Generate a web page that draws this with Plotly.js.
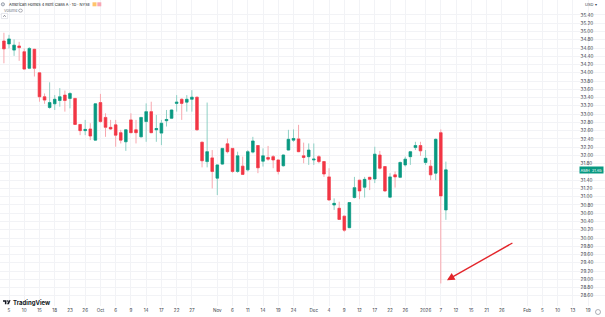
<!DOCTYPE html>
<html><head><meta charset="utf-8">
<script src="https://cdn.plot.ly/plotly-3.0.1.min.js"></script>
<style>html,body{margin:0;padding:0;background:#fff;}#chart{width:605px;height:317px;}</style>
</head><body><div id="chart"></div>
<script>
const dates = ["2025-09-04","2025-09-05","2025-09-08","2025-09-09","2025-09-10","2025-09-11","2025-09-12","2025-09-15","2025-09-16","2025-09-17","2025-09-18","2025-09-19","2025-09-22","2025-09-23","2025-09-24","2025-09-25","2025-09-26","2025-09-29","2025-09-30",
"2025-10-01","2025-10-02","2025-10-03","2025-10-06","2025-10-07","2025-10-08","2025-10-09","2025-10-10","2025-10-13","2025-10-14","2025-10-15","2025-10-16","2025-10-17","2025-10-20","2025-10-21","2025-10-22","2025-10-23","2025-10-24","2025-10-27","2025-10-28","2025-10-29","2025-10-30","2025-10-31",
"2025-11-03","2025-11-04","2025-11-05","2025-11-06","2025-11-07","2025-11-10","2025-11-11","2025-11-12","2025-11-13","2025-11-14","2025-11-17","2025-11-18","2025-11-19","2025-11-20","2025-11-21","2025-11-24","2025-11-25","2025-11-26","2025-11-28",
"2025-12-01","2025-12-02","2025-12-03","2025-12-04","2025-12-05","2025-12-08","2025-12-09","2025-12-10","2025-12-11","2025-12-12","2025-12-15","2025-12-16","2025-12-17","2025-12-18","2025-12-19","2025-12-22","2025-12-23","2025-12-24","2025-12-26","2025-12-29","2025-12-30","2025-12-31",
"2026-01-02","2026-01-05","2026-01-06","2026-01-07","2026-01-08"];
const futureDates = ["2026-01-09","2026-01-12","2026-01-13","2026-01-14","2026-01-15","2026-01-16","2026-01-20","2026-01-21","2026-01-22","2026-01-23","2026-01-26","2026-01-27","2026-01-28","2026-01-29","2026-01-30","2026-02-02","2026-02-03","2026-02-04","2026-02-05","2026-02-06","2026-02-09","2026-02-10","2026-02-11","2026-02-12","2026-02-13","2026-02-17","2026-02-18","2026-02-19","2026-02-20","2026-02-23","2026-02-24","2026-02-25"];

const open = [34.77,34.70,34.55,34.65,34.51,34.11,34.57,34.00,33.42,33.16,33.25,33.33,33.46,33.38,33.38,32.75,32.60,32.64,32.37,
33.28,32.92,32.68,32.74,32.55,32.33,32.86,32.62,32.45,32.82,33.06,32.62,32.54,32.84,32.90,33.26,33.36,33.29,33.36,33.41,32.32,31.85,31.94,
31.45,31.79,32.28,32.17,31.61,31.74,31.65,32.08,32.24,31.86,31.95,31.97,31.89,31.75,32.13,32.37,32.40,31.99,31.97,
31.89,31.97,31.85,31.48,30.80,30.72,30.53,30.25,30.98,31.40,31.23,31.47,31.43,32.01,31.73,30.99,31.53,31.47,31.77,31.97,32.19,32.24,
31.83,31.74,31.57,32.55,30.68];
const high = [34.97,34.92,34.81,34.75,34.59,34.62,34.58,34.01,33.50,33.77,33.46,33.63,33.57,33.53,33.39,32.76,32.86,32.78,33.26,
33.49,33.02,32.86,32.86,32.62,32.63,33.02,32.86,32.93,33.26,33.30,32.98,32.86,33.10,33.11,33.46,33.38,33.46,33.58,33.42,32.33,33.28,32.13,
31.78,32.18,32.41,32.18,32.09,31.97,32.13,32.45,32.25,32.17,32.23,32.01,31.90,32.02,32.62,32.63,32.74,32.31,32.29,
32.29,32.01,31.86,31.69,30.96,30.88,30.54,30.87,31.48,31.41,31.48,31.48,32.21,32.11,31.74,31.57,31.61,31.85,31.97,32.11,32.33,32.33,
32.13,31.89,32.41,32.63,31.85];
const low = [34.23,34.59,34.41,34.29,34.08,34.09,33.91,33.30,33.25,33.13,33.10,33.18,33.06,33.14,32.74,32.49,32.49,32.37,32.36,
32.79,32.45,32.62,32.21,32.29,32.11,32.54,32.29,32.44,32.33,32.54,32.33,32.25,32.70,32.88,33.06,32.86,33.06,33.06,32.60,31.71,31.71,31.20,
31.04,31.77,32.05,31.58,31.58,31.53,31.61,32.05,31.57,31.73,31.87,31.69,31.54,31.73,32.12,32.33,32.08,31.81,31.77,
31.77,31.81,31.48,30.91,30.68,30.44,30.15,30.24,30.96,30.94,30.98,31.16,31.33,31.66,31.12,30.98,31.22,31.45,31.73,31.77,32.13,31.99,
31.77,31.40,31.40,28.90,30.44];
const close = [34.58,34.82,34.67,34.61,34.09,34.59,34.11,33.42,33.34,33.28,33.36,33.42,33.33,33.50,32.75,32.60,32.63,32.47,33.25,
32.82,32.68,32.64,32.49,32.37,32.62,32.55,32.55,32.92,33.06,32.55,32.65,32.78,32.87,33.10,33.29,33.26,33.36,33.41,32.62,31.87,32.09,31.61,
31.77,32.17,32.09,31.61,31.99,31.54,32.09,32.35,31.70,31.99,31.91,31.89,31.61,32.01,32.39,32.41,32.09,31.95,32.13,
31.91,31.85,31.55,30.92,30.84,30.45,30.19,30.86,31.22,31.14,31.42,31.42,32.03,31.69,31.14,31.48,31.48,31.83,31.91,32.09,32.24,32.11,
31.93,31.53,32.39,31.02,31.65];

const tickDates = ["2025-09-05","2025-09-10","2025-09-15","2025-09-18","2025-09-23","2025-09-26","2025-10-01","2025-10-06","2025-10-09","2025-10-14","2025-10-17","2025-10-22","2025-10-27","2025-11-03","2025-11-06","2025-11-11","2025-11-14","2025-11-19","2025-11-24","2025-12-01","2025-12-04","2025-12-09","2025-12-12","2025-12-17","2025-12-22","2025-12-26","2026-01-02","2026-01-07","2026-01-12","2026-01-15","2026-01-21","2026-01-26","2026-02-02","2026-02-05","2026-02-10","2026-02-13","2026-02-19"];
const tickText = ["5","10","15","18","23","26","Oct","6","9","14","17","22","27","Nov","6","11","14","19","24","Dec","4","9","12","17","22","26","2026","7","12","15","21","26","Feb","5","10","13","19"];
const priceTicks = [28.6,28.8,29.0,29.2,29.4,29.6,29.8,30.0,30.2,30.4,30.6,30.8,31.0,31.2,31.4,31.6,31.8,32.0,32.2,32.4,32.6,32.8,33.0,33.2,33.4,33.6,33.8,34.0,34.2,34.4,34.6,34.8,35.0,35.2,35.4];
const symbol = "AMH";
const titleText = "American Homes 4 Rent Class A · 1D · NYSE";

const allDays = dates.concat(futureDates);
const idx = dates.map((d, i) => allDays.indexOf(d));
const tickVals = tickDates.map(d => allDays.indexOf(d));

const W = 605, PB = 306;
const px = x => x / W;
const py = y => 1 - y / PB;
const P = (x, y) => px(x).toFixed(5) + ',' + py(y).toFixed(5);

const up = '#089981', dn = '#f23645';
const bodyHigh = open.map((o, i) => Math.max(o, close[i]));
const bodyLow = open.map((o, i) => Math.min(o, close[i]));

const wickTrace = {
  type: 'candlestick', x: idx, open: open, high: high, low: low, close: close,
  increasing: {line: {color: '#8fd0c5', width: 1}, fillcolor: '#8fd0c5'},
  decreasing: {line: {color: '#f8a7ae', width: 1}, fillcolor: '#f8a7ae'},
  hoverinfo: 'skip', showlegend: false
};
const bodyTrace = {
  type: 'candlestick', x: idx, open: open, high: bodyHigh, low: bodyLow, close: close,
  increasing: {line: {color: up, width: 0.5}, fillcolor: up},
  decreasing: {line: {color: dn, width: 0.5}, fillcolor: dn},
  showlegend: false
};

const last = close.length - 1;
const minI = low.indexOf(Math.min(...low));
const font = 'Inter, Roboto, "Noto Sans", sans-serif';
// the price label covers the axis label nearest to the last close
const hiddenTick = priceTicks.reduce((b, v) => Math.abs(v - close[last]) < Math.abs(b - close[last]) ? v : b, priceTicks[0]);

const layout = {
  width: 605, height: 317,
  margin: {l: 0, r: 0, t: 0, b: 11, pad: 0},
  paper_bgcolor: '#ffffff', plot_bgcolor: '#ffffff',
  showlegend: false,
  boxgap: 0.28,
  xaxis: {
    type: 'linear', domain: [0, 1],
    range: [-0.772, 118.32],
    tickmode: 'array', tickvals: tickVals, ticktext: tickText,
    showgrid: true, gridcolor: '#f2f3f6', gridwidth: 1,
    zeroline: false, showline: false, ticks: '',
    tickfont: {family: font, size: 4.6, color: '#3b3f4a'},
    rangeslider: {visible: false}, fixedrange: true
  },
  yaxis: {
    range: [28.354, 35.763], domain: [0, 1],
    anchor: 'free', position: 0.958, side: 'right',
    tickmode: 'array', tickvals: priceTicks,
    ticktext: priceTicks.map(v => v === hiddenTick ? '' : v.toFixed(2)),
    showgrid: true, gridcolor: '#f2f3f6', gridwidth: 1,
    zeroline: false, showline: false, ticks: '',
    tickfont: {family: font, size: 4.6, color: '#3b3f4a'}, fixedrange: true
  },
  annotations: [
    {xref: 'paper', yref: 'paper', x: px(6.5), y: py(4.3), xanchor: 'left', yanchor: 'middle',
     text: titleText, showarrow: false, font: {family: font, size: 3.9, color: '#131722'}},
    {xref: 'paper', yref: 'paper', x: px(1.5), y: py(10.6), xanchor: 'left', yanchor: 'middle',
     text: 'Volume', showarrow: false, font: {family: font, size: 3.8, color: '#787b86'}},
    {xref: 'paper', yref: 'paper', x: px(583), y: py(4.3), xanchor: 'left', yanchor: 'middle',
     text: 'USD ▾', showarrow: false, font: {family: font, size: 4, color: '#3b3f4a'}},
    {xref: 'paper', yref: 'y', x: px(603.5), y: close[last], xanchor: 'right', yanchor: 'middle',
     text: symbol + '  ' + close[last].toFixed(2), showarrow: false, bgcolor: up, borderpad: 0.6,
     font: {family: font, size: 3.9, color: '#ffffff'}},
    {xref: 'paper', yref: 'paper', x: px(11.2), y: py(302.3), xanchor: 'left', yanchor: 'middle',
     text: '<b>TradingView</b>', showarrow: false, font: {family: font, size: 6, color: '#131722'}},
    {xref: 'x', yref: 'y', x: idx[minI] + 1.2, y: low[minI] + 0.08, ax: 67, ay: -38,
     axref: 'pixel', ayref: 'pixel',
     text: '', showarrow: true, arrowhead: 2, arrowsize: 1.1, arrowwidth: 1.4, arrowcolor: '#e3262b', standoff: 0}
  ],
  shapes: [
    {type: 'circle', xref: 'paper', yref: 'paper', x0: px(1.3), x1: px(4.5), y0: py(2.7), y1: py(5.9),
     line: {color: '#6a7385', width: 0.6}, fillcolor: '#dfe3ea'},
    {type: 'rect', xref: 'paper', yref: 'paper', x0: px(92.5), x1: px(96.5), y0: py(2.3), y1: py(6.3),
     line: {width: 0}, fillcolor: '#ffc46b'},
    {type: 'rect', xref: 'paper', yref: 'paper', x0: px(97.3), x1: px(101.3), y0: py(2.3), y1: py(6.3),
     line: {width: 0}, fillcolor: '#f7a6b4'},
    {type: 'circle', xref: 'paper', yref: 'paper', x0: px(18.6), x1: px(22.4), y0: py(9.1), y1: py(12.1),
     line: {color: '#787b86', width: 0.6}, fillcolor: '#ffffff'},
    {type: 'rect', xref: 'paper', yref: 'paper', x0: px(1.4), x1: px(7.6), y0: py(13.4), y1: py(18.6),
     line: {color: '#d1d4dc', width: 0.6}, fillcolor: '#ffffff'},
    {type: 'path', xref: 'paper', yref: 'paper', path: 'M' + P(3.3, 16.8) + ' L' + P(4.5, 15.3) + ' L' + P(5.7, 16.8),
     line: {color: '#4a4e59', width: 0.6}},
    {type: 'path', xref: 'paper', yref: 'paper',
     path: 'M' + P(3, 300.2) + ' L' + P(6.4, 300.2) + ' L' + P(6.4, 304.3) + ' L' + P(4.9, 304.3) + ' L' + P(4.9, 301.7) + ' L' + P(3, 301.7) + ' Z',
     line: {width: 0}, fillcolor: '#131722'},
    {type: 'circle', xref: 'paper', yref: 'paper', x0: px(6.7), x1: px(8.2), y0: py(300.2), y1: py(301.7),
     line: {width: 0}, fillcolor: '#131722'},
    {type: 'path', xref: 'paper', yref: 'paper',
     path: 'M' + P(8.8, 300.2) + ' L' + P(10.6, 300.2) + ' L' + P(8.8, 304.3) + ' L' + P(7.0, 304.3) + ' Z',
     line: {width: 0}, fillcolor: '#131722'},
    {type: 'circle', xref: 'paper', yref: 'paper', x0: px(595.5), x1: px(600.5), y0: py(309.5), y1: py(314.5),
     line: {color: '#787b86', width: 0.6}, fillcolor: '#ffffff'}
  ]
};

Plotly.newPlot('chart', [wickTrace, bodyTrace], layout, {displayModeBar: false, staticPlot: true});
</script>
</body></html>
